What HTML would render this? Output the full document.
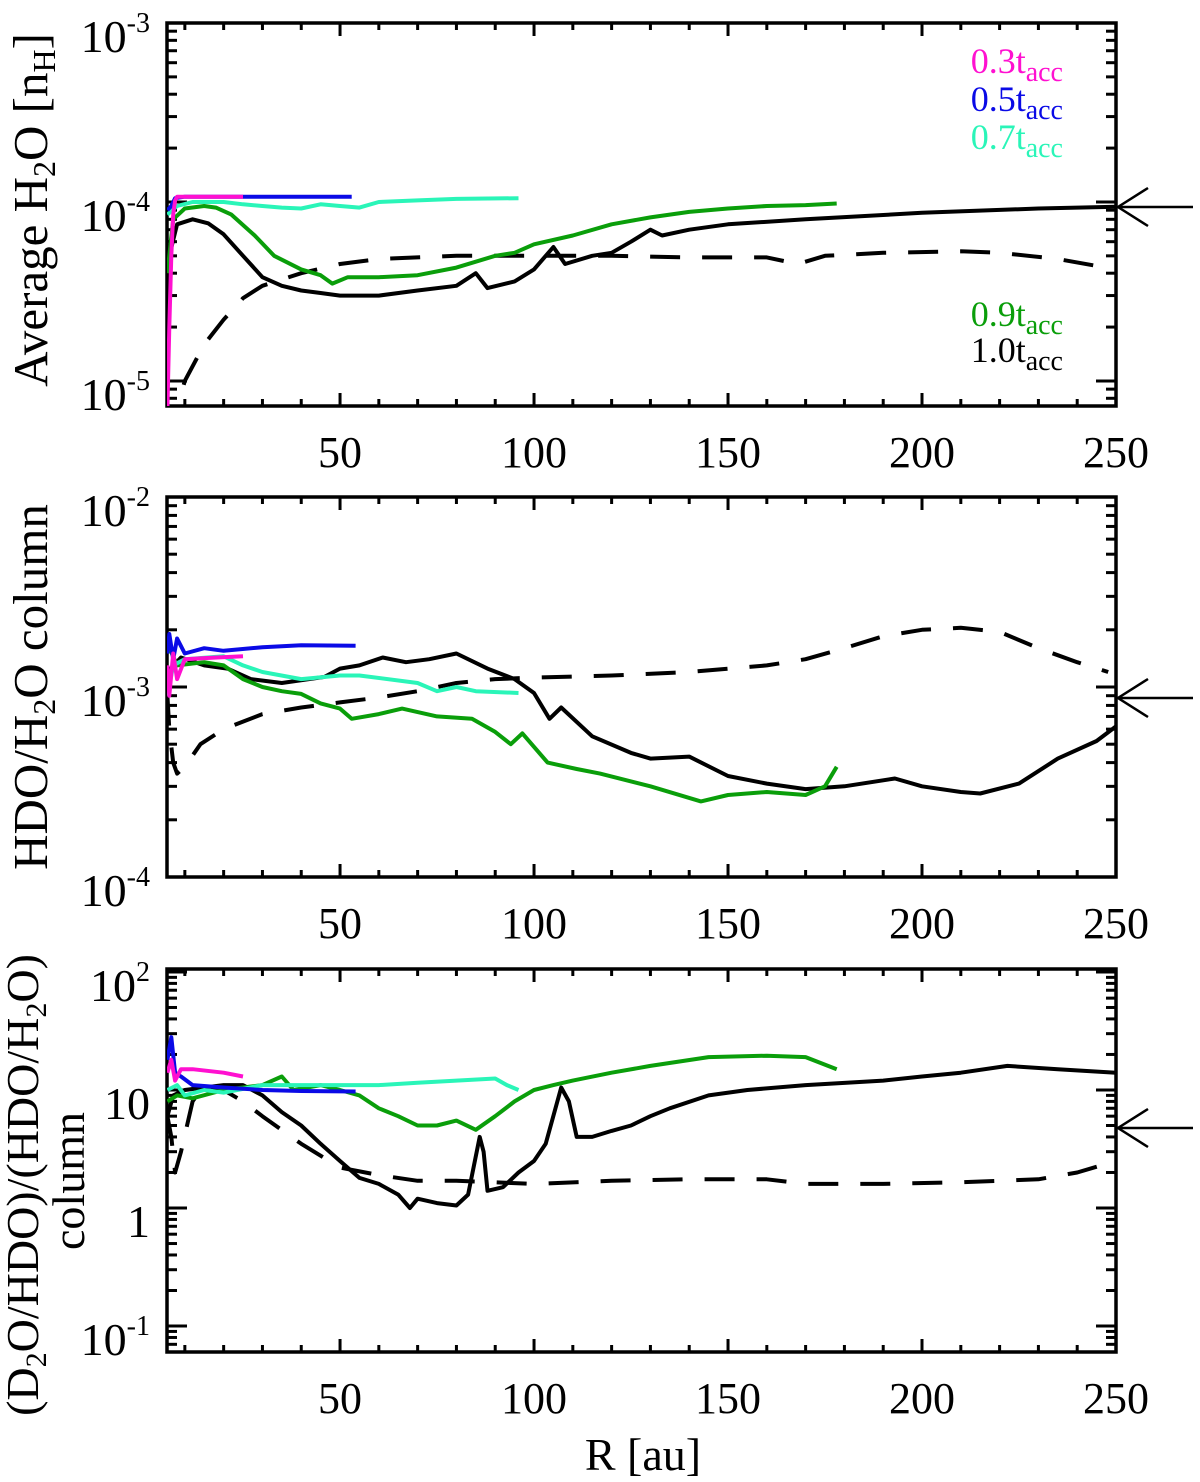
<!DOCTYPE html>
<html><head><meta charset="utf-8"><style>
html,body{margin:0;padding:0;background:#fff;}
svg{display:block;font-family:"Liberation Serif",serif;}
</style></head><body>
<svg id="chart" width="1200" height="1482" viewBox="0 0 1200 1482" xmlns="http://www.w3.org/2000/svg"></svg>
<script>
// ---------- data ----------
const xTicks = [50,100,150,200,250];
// Panel 1: average H2O abundance (values in nH)
const p1_mag_r = [5.5,6,6.5,7,7.5,8,12,25];
const p1_mag_v = [0.07e-4,0.2e-4,0.5e-4,0.85e-4,1.02e-4,1.07e-4,1.07e-4,1.07e-4];
const p1_blue_r = [5.5,6.5,7.5,10,30,53];
const p1_blue_v = [0.9e-4,0.95e-4,1.05e-4,1.07e-4,1.07e-4,1.07e-4];
const p1_cyan_r = [5.5,8,12,20,25,30,35,40,45,50,55,60,70,80,96];
const p1_cyan_v = [0.85e-4,0.95e-4,1.0e-4,1.0e-4,0.97e-4,0.95e-4,0.93e-4,0.92e-4,0.97e-4,0.95e-4,0.93e-4,1.0e-4,1.02e-4,1.04e-4,1.05e-4];
const p1_green_r = [5.5,7,10,15,18,22,28,33,40,45,48,52,60,70,80,90,95,100,110,120,130,140,150,160,170,178];
const p1_green_v = [0.4e-4,0.8e-4,0.92e-4,0.95e-4,0.93e-4,0.85e-4,0.65e-4,0.5e-4,0.42e-4,0.39e-4,0.35e-4,0.38e-4,0.38e-4,0.39e-4,0.43e-4,0.5e-4,0.52e-4,0.58e-4,0.65e-4,0.75e-4,0.82e-4,0.88e-4,0.92e-4,0.95e-4,0.96e-4,0.98e-4];
const p1_black_r = [5.5,6,8,12,16,20,25,30,35,40,45,50,60,70,80,85,88,95,100,105,108,115,120,125,130,133,140,150,170,200,230,250];
const p1_black_v = [0.08e-4,0.5e-4,0.75e-4,0.8e-4,0.76e-4,0.66e-4,0.5e-4,0.38e-4,0.34e-4,0.32e-4,0.31e-4,0.3e-4,0.3e-4,0.32e-4,0.34e-4,0.4e-4,0.33e-4,0.36e-4,0.42e-4,0.56e-4,0.45e-4,0.5e-4,0.52e-4,0.6e-4,0.7e-4,0.65e-4,0.7e-4,0.75e-4,0.8e-4,0.87e-4,0.92e-4,0.94e-4];
const p1_dash_r = [6,8,10,15,20,25,30,40,50,60,80,100,120,140,160,168,175,190,210,220,235,250];
const p1_dash_v = [0.05e-4,0.07e-4,0.1e-4,0.16e-4,0.22e-4,0.29e-4,0.34e-4,0.4e-4,0.45e-4,0.48e-4,0.5e-4,0.5e-4,0.5e-4,0.49e-4,0.49e-4,0.45e-4,0.5e-4,0.52e-4,0.53e-4,0.52e-4,0.48e-4,0.42e-4];
// Panel 2: HDO/H2O column
const p2_blue_r = [5.5,6,7,8,10,15,20,30,40,54];
const p2_blue_v = [1.5e-3,1.9e-3,1.4e-3,1.8e-3,1.5e-3,1.6e-3,1.55e-3,1.62e-3,1.66e-3,1.65e-3];
const p2_mag_r = [5.5,6,7,8,10,15,25];
const p2_mag_v = [1.3e-3,0.9e-3,1.5e-3,1.1e-3,1.4e-3,1.42e-3,1.45e-3];
const p2_cyan_r = [5.5,7,10,20,25,30,40,50,55,70,75,80,85,96];
const p2_cyan_v = [0.9e-3,1.3e-3,1.4e-3,1.45e-3,1.3e-3,1.2e-3,1.1e-3,1.15e-3,1.15e-3,1.05e-3,0.95e-3,1.0e-3,0.95e-3,0.93e-3];
const p2_green_r = [5.5,8,15,20,25,30,35,40,45,50,53,60,66,75,84,90,94,97,103.5,111,117,130,143,150,160,170,175,178];
const p2_green_v = [1.7e-3,1.3e-3,1.35e-3,1.3e-3,1.1e-3,1.0e-3,0.95e-3,0.92e-3,0.82e-3,0.77e-3,0.68e-3,0.72e-3,0.77e-3,0.7e-3,0.68e-3,0.58e-3,0.5e-3,0.57e-3,0.4e-3,0.37e-3,0.35e-3,0.3e-3,0.25e-3,0.27e-3,0.28e-3,0.27e-3,0.3e-3,0.38e-3];
const p2_black_r = [5.5,9,15,21,27,35,46,50,55,61,67,73,80,88,95,100,104,107,115,125,130,140,150,160,170,180,193,200,210,215,225,235,245,250];
const p2_black_v = [1.2e-3,1.43e-3,1.3e-3,1.25e-3,1.1e-3,1.05e-3,1.13e-3,1.25e-3,1.3e-3,1.43e-3,1.35e-3,1.4e-3,1.5e-3,1.25e-3,1.1e-3,0.93e-3,0.68e-3,0.78e-3,0.55e-3,0.45e-3,0.42e-3,0.43e-3,0.34e-3,0.31e-3,0.29e-3,0.3e-3,0.33e-3,0.3e-3,0.28e-3,0.275e-3,0.31e-3,0.42e-3,0.52e-3,0.62e-3];
const p2_dash_r = [5.5,6,7,8,10,14,20,30,40,50,60,70,80,90,100,120,140,160,170,180,190,200,210,220,230,240,248];
const p2_dash_v = [0.9e-3,0.6e-3,0.4e-3,0.35e-3,0.38e-3,0.5e-3,0.6e-3,0.72e-3,0.78e-3,0.83e-3,0.88e-3,0.95e-3,1.05e-3,1.1e-3,1.12e-3,1.15e-3,1.2e-3,1.3e-3,1.4e-3,1.6e-3,1.85e-3,2.0e-3,2.05e-3,1.95e-3,1.6e-3,1.35e-3,1.2e-3];
// Panel 3: (D2O/HDO)/(HDO/H2O) column
const p3_blue_r = [5.5,6.5,7.5,9,12,20,30,40,54];
const p3_blue_v = [18,28,14,13,11,10.5,10,9.8,9.7];
const p3_mag_r = [5.5,6.5,7.5,9,12,20,25];
const p3_mag_v = [14,18,12,15,15,14,13];
const p3_cyan_r = [5.5,8,10,15,20,30,40,50,60,70,80,90,93,96];
const p3_cyan_v = [10,11,9,10,9.5,11,11,11,11,11.5,12,12.5,11,10];
const p3_green_r = [5.5,8,12,20,25,30,35,38,45,50,55,60,65,70,75,80,85,90,95,100,105,110,120,130,145,160,170,178];
const p3_green_v = [8,9,8.5,10,10.5,11,13,10,11,10,9,7,6,5,5,5.5,4.6,6,8,10,11,12,14,16,19,19.5,19,15];
const p3_black_r = [5.5,7,10,15,20,25,30,35,40,45,50,55,60,65,68,70,75,80,83,86,87,88,92,96,100,103,107,109,111,115,120,125,130,135,145,155,170,190,200,210,222,235,250];
const p3_black_v = [6,9,10,10.5,11,11,9,6.5,5,3.5,2.5,1.8,1.6,1.3,1.0,1.2,1.1,1.05,1.3,4,3,1.4,1.5,2,2.5,3.5,10.5,8,4,4,4.5,5,6,7,9,10,11,12,13,14,16,15,14];
const p3_dash_r = [5.5,6.5,7.5,9,12,15,20,25,30,40,50,60,70,80,90,100,120,140,160,170,190,210,230,240,250];
const p3_dash_v = [6,4,2,3,8,11,10,8,6,3.5,2.2,1.9,1.7,1.7,1.65,1.6,1.7,1.75,1.75,1.6,1.6,1.65,1.75,2.0,2.5];

// ---------- layout ----------
const NS = "http://www.w3.org/2000/svg";
const svg = document.getElementById('chart');
const X0 = 167, X1 = 1116, RMIN = 5.4, RMAX = 250;
function xs(r){ return X0 + (r - RMIN) / (RMAX - RMIN) * (X1 - X0); }
const COL = {mag:'#ff10d0', blue:'#0a0ae6', cyan:'#2af5b8', green:'#0a9e0a', black:'#000'};

function mk(tag, attrs, parent){
  const e = document.createElementNS(NS, tag);
  for (const k in attrs) e.setAttribute(k, attrs[k]);
  (parent || svg).appendChild(e);
  return e;
}

function panel(id, top, bottom, logTop, logBot, clipId){
  const ys = v => top + (logTop - Math.log10(v)) / (logTop - logBot) * (bottom - top);
  const g = mk('g', {});
  
  
  const cp = mk('clipPath', {id: clipId}, g);
  mk('rect', {x: X0, y: top, width: X1 - X0, height: bottom - top}, cp);
  return {g, ys, top, bottom, logTop, logBot, clipId};
}

function axes(P, yLabels){
  const g = P.g;
  const fr = mk('rect', {x: X0, y: P.top, width: X1 - X0, height: P.bottom - P.top, fill: 'none', stroke: '#000', 'stroke-width': 3.5}, g);
  
  
  for (let r = 10; r < 250; r += 10){
    const x = xs(r); const major = r % 50 === 0; const L = major ? 13 : 7;
    mk('line', {x1: x, x2: x, y1: P.bottom, y2: P.bottom - L, stroke: '#000', 'stroke-width': 3}, g);
    mk('line', {x1: x, x2: x, y1: P.top, y2: P.top + L, stroke: '#000', 'stroke-width': 3}, g);
  }
  xTicks.forEach(r => {
    const t = mk('text', {x: xs(r), y: P.bottom + 61, 'font-size': 44, 'text-anchor': 'middle'}, g);
    t.textContent = String(r);
    
    
  });
  for (let d = Math.floor(P.logBot); d < P.logTop; d++){
    for (let m = 1; m <= 9; m++){
      const lv = d + Math.log10(m);
      if (lv < P.logBot - 1e-6 || lv > P.logTop + 1e-6) continue;
      const y = P.ys(Math.pow(10, lv)); const L = m === 1 ? 20 : 10;
      mk('line', {x1: X0, x2: X0 + L, y1: y, y2: y, stroke: '#000', 'stroke-width': 3}, g);
      mk('line', {x1: X1, x2: X1 - L, y1: y, y2: y, stroke: '#000', 'stroke-width': 3}, g);
    }
  }
  yLabels.forEach(([exp, txt, sup]) => {
    const y = P.ys(Math.pow(10, exp));
    const t = mk('text', {x: 150, y: y + 29, 'font-size': 46, 'text-anchor': 'end'}, g);
    
    
    t.textContent = txt;
    if (sup){
      const s = mk('tspan', {'font-size': 28, dy: -20}, t);
      s.textContent = sup;
    }
  });
}

function series(P, rs, vs, color, name, dashed){
  let d = '';
  rs.forEach((r, i) => { d += (i ? 'L' : 'M') + xs(r).toFixed(1) + ',' + P.ys(vs[i]).toFixed(1); });
  const p = mk('path', {d, fill: 'none', stroke: color, 'stroke-width': 4, 'stroke-linejoin': 'round', 'clip-path': 'url(#' + P.clipId + ')'}, P.g);
  if (dashed) p.setAttribute('stroke-dasharray', '30 22');
  
  
}

function arrow(y, name){
  const g = mk('g', {stroke: '#000', 'stroke-width': 2.5, fill: 'none'});
  
  
  mk('line', {x1: 1118, x2: 1193, y1: y, y2: y}, g);
  mk('polyline', {points: `1148,${y-19} 1118,${y} 1148,${y+19}`}, g);
}

// ---------- Panel 1 ----------
const P1 = panel('panel-h2o-abundance', 23, 406, -3, -5.14, 'c1');
axes(P1, [[-3,'10','-3'],[-4,'10','-4'],[-5,'10','-5']]);
series(P1, p1_dash_r, p1_dash_v, COL.black, 'series-1.0tacc-dashed', true);
series(P1, p1_black_r, p1_black_v, COL.black, 'series-1.0tacc');
series(P1, p1_green_r, p1_green_v, COL.green, 'series-0.9tacc');
series(P1, p1_cyan_r, p1_cyan_v, COL.cyan, 'series-0.7tacc');
series(P1, p1_blue_r, p1_blue_v, COL.blue, 'series-0.5tacc');
series(P1, p1_mag_r, p1_mag_v, COL.mag, 'series-0.3tacc');
arrow(207, 'reference-arrow-h2o');

// ---------- Panel 2 ----------
const P2 = panel('panel-hdo-h2o', 497, 877, -2, -4, 'c2');
axes(P2, [[-2,'10','-2'],[-3,'10','-3'],[-4,'10','-4']]);
series(P2, p2_dash_r, p2_dash_v, COL.black, 'series-1.0tacc-dashed', true);
series(P2, p2_black_r, p2_black_v, COL.black, 'series-1.0tacc');
series(P2, p2_green_r, p2_green_v, COL.green, 'series-0.9tacc');
series(P2, p2_cyan_r, p2_cyan_v, COL.cyan, 'series-0.7tacc');
series(P2, p2_blue_r, p2_blue_v, COL.blue, 'series-0.5tacc');
series(P2, p2_mag_r, p2_mag_v, COL.mag, 'series-0.3tacc');
arrow(698, 'reference-arrow-hdo');

// ---------- Panel 3 ----------
const P3 = panel('panel-d2o-ratio', 969, 1352, 2.025, -1.22, 'c3');
axes(P3, [[2,'10','2'],[1,'10',''],[0,'1',''],[-1,'10','-1']]);
series(P3, p3_dash_r, p3_dash_v, COL.black, 'series-1.0tacc-dashed', true);
series(P3, p3_black_r, p3_black_v, COL.black, 'series-1.0tacc');
series(P3, p3_green_r, p3_green_v, COL.green, 'series-0.9tacc');
series(P3, p3_cyan_r, p3_cyan_v, COL.cyan, 'series-0.7tacc');
series(P3, p3_blue_r, p3_blue_v, COL.blue, 'series-0.5tacc');
series(P3, p3_mag_r, p3_mag_v, COL.mag, 'series-0.3tacc');
arrow(1128, 'reference-arrow-d2o');
</script>
<div style="position:absolute;left:0;top:0;width:1200px;height:1482px;pointer-events:none">
<svg width="1200" height="1482" style="position:absolute;left:0;top:0;font-family:'Liberation Serif',serif">
  <g font-size="36" text-anchor="end">
    <text x="1063" y="73" fill="#ff10d0">0.3t<tspan font-size="28" dy="8">acc</tspan></text>
    <text x="1063" y="111" fill="#0a0ae6">0.5t<tspan font-size="28" dy="8">acc</tspan></text>
    <text x="1063" y="149" fill="#2af5b8">0.7t<tspan font-size="28" dy="8">acc</tspan></text>
    <text x="1063" y="326" fill="#0a9e0a">0.9t<tspan font-size="28" dy="8">acc</tspan></text>
    <text x="1063" y="362" fill="#000">1.0t<tspan font-size="28" dy="8">acc</tspan></text>
  </g>
  <text font-size="49" text-anchor="middle" transform="translate(47,210) rotate(-90)">Average H<tspan font-size="32" dy="8">2</tspan><tspan dy="-8">O [n</tspan><tspan font-size="32" dy="8">H</tspan><tspan dy="-8">]</tspan></text>
  <text font-size="49" text-anchor="middle" transform="translate(47,687) rotate(-90)">HDO/H<tspan font-size="32" dy="8">2</tspan><tspan dy="-8">O column</tspan></text>
  <text font-size="46" text-anchor="middle" transform="translate(38,1185) rotate(-90)">(D<tspan font-size="30" dy="8">2</tspan><tspan dy="-8">O/HDO)/(HDO/H</tspan><tspan font-size="30" dy="8">2</tspan><tspan dy="-8">O)</tspan></text>
  <text font-size="46" text-anchor="middle" transform="translate(84,1181) rotate(-90)">column</text>
  <text font-size="46" text-anchor="middle" x="643" y="1470">R [au]</text>
</svg>
</div>
</body></html>
